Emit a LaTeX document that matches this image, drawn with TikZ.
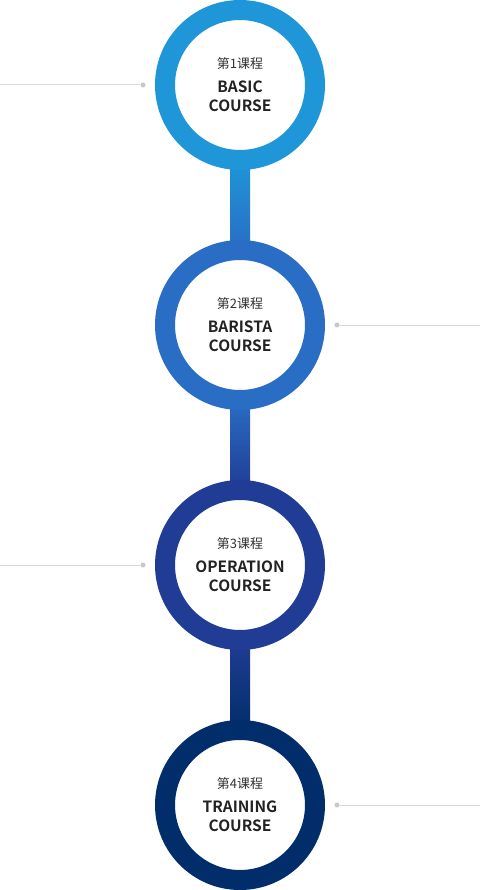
\documentclass[tikz,border=0pt]{standalone}
\usepackage{fontspec}
\newfontfamily\cjk{Noto Sans CJK SC}[BoldFont={Noto Sans CJK SC Bold}]
\usetikzlibrary{calc}
\definecolor{cA}{HTML}{1E96D8}
\definecolor{cB}{HTML}{2A6DC5}
\definecolor{cC}{HTML}{213C94}
\definecolor{cD}{HTML}{012E6A}
\definecolor{linegray}{HTML}{DADADA}
\definecolor{dotgray}{HTML}{C8C8C8}
\definecolor{txtA}{HTML}{333333}
\definecolor{txtB}{HTML}{222222}
\tikzset{
  ring/.style={circle, draw=#1, line width=20pt, fill=white, minimum size=150pt, inner sep=0pt, outer sep=0pt},
  subtitle/.style={font=\cjk\fontsize{13}{15}\selectfont, text=txtA, inner sep=0pt},
  title/.style={font=\cjk\bfseries\fontsize{15.5}{19}\selectfont, text=txtB, align=center, inner sep=0pt},
  sidedot/.style={circle, fill=dotgray, minimum size=5pt, inner sep=0pt},
  sideline/.style={draw=linegray, line width=1pt},
}
\begin{document}
\begin{tikzpicture}[x=1pt,y=-1pt]
\useasboundingbox (0,0) rectangle (480,890);
\path (240,85) coordinate (p1) (240,325) coordinate (p2) (240,565) coordinate (p3) (240,805) coordinate (p4);
% bars
\shade[top color=cA, bottom color=cB] ($(p1)+(-10,75)$) rectangle ($(p2)+(10,-75)$);
\shade[top color=cB, bottom color=cC] ($(p2)+(-10,75)$) rectangle ($(p3)+(10,-75)$);
\shade[top color=cC, bottom color=cD] ($(p3)+(-10,75)$) rectangle ($(p4)+(10,-75)$);
% circles
\node[ring=cA] (c1) at (p1) {};
\node[ring=cB] (c2) at (p2) {};
\node[ring=cC] (c3) at (p3) {};
\node[ring=cD] (c4) at (p4) {};
% texts
\node[subtitle] (s1) at ($(c1)+(0,-21)$) {第1课程};
\node[title] (t1) at ($(c1)+(0,11)$) {BASIC\\COURSE};
\node[subtitle] (s2) at ($(c2)+(0,-21)$) {第2课程};
\node[title] (t2) at ($(c2)+(0,11)$) {BARISTA\\COURSE};
\node[subtitle] (s3) at ($(c3)+(0,-21)$) {第3课程};
\node[title] (t3) at ($(c3)+(0,11)$) {OPERATION\\COURSE};
\node[subtitle] (s4) at ($(c4)+(0,-21)$) {第4课程};
\node[title] (t4) at ($(c4)+(0,11)$) {TRAINING\\COURSE};
% side lines
\node[sidedot] (d1) at (143,85) {};
\coordinate (e1) at (0,85);
\draw[sideline] (e1) -- (d1);
\node[sidedot] (d2) at (337,325) {};
\coordinate (e2) at (480,325);
\draw[sideline] (d2) -- (e2);
\node[sidedot] (d3) at (143,565) {};
\coordinate (e3) at (0,565);
\draw[sideline] (e3) -- (d3);
\node[sidedot] (d4) at (337,805) {};
\coordinate (e4) at (480,805);
\draw[sideline] (d4) -- (e4);
\end{tikzpicture}
\end{document}
